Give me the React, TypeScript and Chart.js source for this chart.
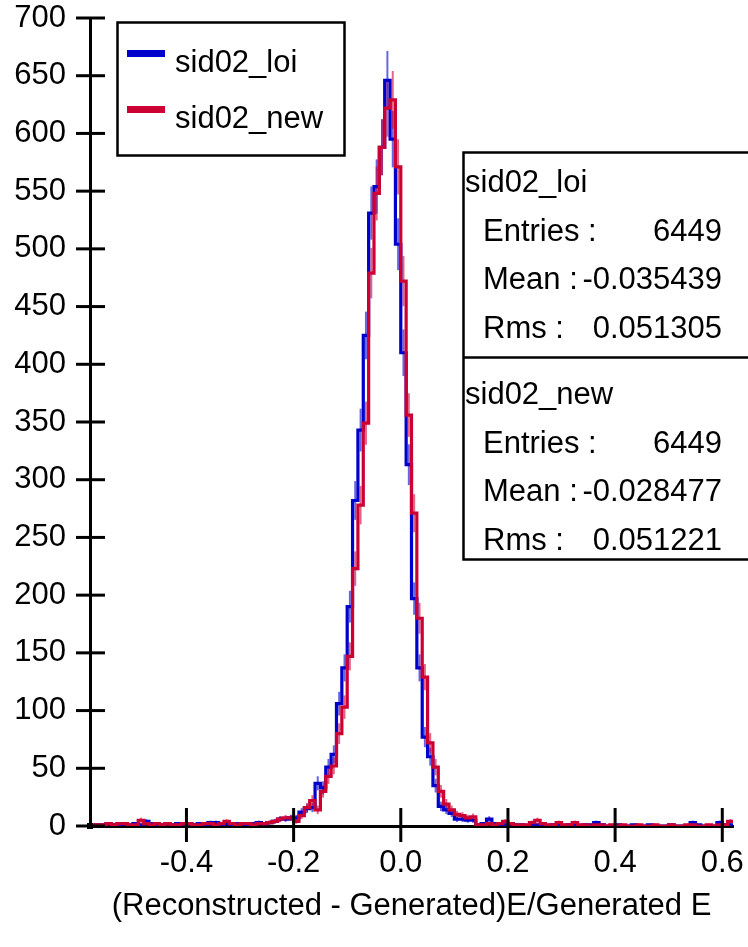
import React, { useEffect, useRef } from 'react';
import { Chart, registerables } from 'chart.js';

Chart.register(...registerables);

// ---- data ----
const BIN_START = -0.58;
const BIN_WIDTH = 0.01;

// counts per 0.01 bin, left edges -0.58 ... 0.61
const blueCounts = [
  // -0.58 .. -0.26
  0, 1, 1, 2, 1, 1, 2, 1, 2, 1, 4, 2, 1, 1, 2, 1, 2, 1, 2, 1, 2, 1, 3, 3, 1, 2, 1, 2, 2, 1, 2, 3, 2,
  // -0.25 .. 0.14
  3, 4, 6, 6, 7, 7, 12, 15, 16, 37, 33, 51, 62, 106, 137, 190, 282, 343, 425, 531,
  554, 588, 646, 595, 504, 410, 313, 197, 137, 77, 60, 35, 17, 14, 11, 6, 6, 5, 5, 1,
  // 0.15 .. 0.61
  2, 6, 2, 1, 1, 2, 1, 1, 0, 1, 1, 1, 0, 1, 1, 0, 1, 1, 0, 1, 1, 3, 1, 0, 0, 1, 0, 0, 1, 0, 0, 1,
  0, 0, 0, 1, 0, 0, 0, 3, 1, 0, 0, 0, 3, 1, 1,
];

const redCounts = [
  // -0.58 .. -0.26
  1, 1, 1, 2, 1, 2, 2, 1, 1, 5, 2, 1, 2, 1, 2, 1, 1, 2, 2, 1, 1, 2, 2, 1, 2, 4, 2, 1, 2, 2, 1, 2, 2,
  // -0.25 .. 0.14
  3, 4, 6, 7, 7, 4, 9, 16, 22, 14, 30, 43, 52, 80, 103, 147, 223, 278, 349, 479,
  548, 588, 622, 629, 571, 472, 356, 271, 180, 129, 72, 51, 30, 19, 14, 10, 9, 7, 8, 1,
  // 0.15 .. 0.61
  1, 2, 1, 2, 4, 2, 1, 1, 1, 3, 5, 2, 1, 1, 3, 1, 1, 3, 1, 1, 0, 1, 1, 0, 1, 0, 1, 0, 0, 1, 0, 0,
  1, 0, 0, 1, 0, 0, 1, 1, 0, 0, 1, 0, 1, 1, 4,
];

const seriesNames = ['sid02_loi', 'sid02_new'];
const seriesColors = ['#0000cc', '#cc0033'];
const errorColors = ['rgba(0,0,204,0.6)', 'rgba(204,0,51,0.6)'];
const statEntries = ['6449', '6449'];
const statMeans = ['-0.035439', '-0.028477'];
const statRms = ['0.051305', '0.051221'];

const xTickValues = [-0.4, -0.2, 0.0, 0.2, 0.4, 0.6];
const X_MIN = -0.58;
const X_MAX = 0.62;
const Y_MIN = 0;
const Y_MAX = 700;
const Y_STEP = 50;
const xTitle = '(Reconstructed - Generated)E/Generated E';

const FONT = "'Liberation Sans', Arial, Helvetica, sans-serif";
const FONT_SIZE = 31;

function toSteps(counts: number[]) {
  const pts = counts.map((c, i) => ({ x: +(BIN_START + i * BIN_WIDTH).toFixed(4), y: c }));
  pts.push({ x: +(BIN_START + counts.length * BIN_WIDTH).toFixed(4), y: counts[counts.length - 1] });
  return pts;
}

const allCounts = [blueCounts, redCounts];

const errorBarsPlugin = {
  id: 'errorBars',
  beforeDatasetsDraw(chart: any) {
    const { ctx, chartArea } = chart;
    const xs = chart.scales.x;
    const ys = chart.scales.y;
    ctx.save();
    ctx.beginPath();
    ctx.rect(chartArea.left, chartArea.top - 40, chartArea.right - chartArea.left, chartArea.bottom - chartArea.top + 40);
    ctx.clip();
    allCounts.forEach((counts, si) => {
      ctx.strokeStyle = errorColors[si];
      ctx.lineWidth = 2;
      counts.forEach((c, i) => {
        if (c <= 0) return;
        const e = Math.sqrt(c);
        const cx = xs.getPixelForValue(BIN_START + (i + 0.5) * BIN_WIDTH);
        ctx.beginPath();
        ctx.moveTo(cx, ys.getPixelForValue(Math.max(0, c - e)));
        ctx.lineTo(cx, ys.getPixelForValue(c + e));
        ctx.stroke();
      });
    });
    ctx.restore();
  },
};

const framePlugin = {
  id: 'frame',
  afterDraw(chart: any) {
    const { ctx, chartArea } = chart;
    const xs = chart.scales.x;
    const ys = chart.scales.y;
    ctx.save();
    ctx.strokeStyle = '#000';
    ctx.fillStyle = '#000';
    ctx.lineWidth = 3;
    // y ticks crossing the axis
    ys.ticks.forEach((t: any) => {
      const y = ys.getPixelForValue(t.value);
      ctx.beginPath();
      ctx.moveTo(chartArea.left - 14, y);
      ctx.lineTo(chartArea.left + 15, y);
      ctx.stroke();
    });
    // x ticks crossing the axis
    xs.ticks.forEach((t: any) => {
      const x = xs.getPixelForValue(t.value);
      ctx.beginPath();
      ctx.moveTo(x, chartArea.bottom - 18);
      ctx.lineTo(x, chartArea.bottom + 16);
      ctx.stroke();
    });
    // origin marker
    ctx.fillRect(chartArea.left - 3, chartArea.bottom - 3, 6, 6);

    // legend box
    ctx.lineWidth = 2.5;
    ctx.strokeRect(117.5, 22.5, 227, 133);
    ctx.font = `${FONT_SIZE}px ${FONT}`;
    ctx.textBaseline = 'alphabetic';
    ctx.textAlign = 'left';
    const legendRows = [72, 128];
    seriesNames.forEach((name, i) => {
      ctx.fillStyle = seriesColors[i];
      ctx.fillRect(127, legendRows[i] - 22, 38, 7);
      ctx.fillStyle = '#000';
      ctx.fillText(name, 175, legendRows[i]);
    });

    // stats boxes
    ctx.lineWidth = 2.5;
    ctx.strokeRect(463.5, 152.5, 300, 407);
    ctx.beginPath();
    ctx.moveTo(463.5, 357.5);
    ctx.lineTo(760, 357.5);
    ctx.stroke();
    const boxTops = [192, 404];
    const rowGap = 48.5;
    seriesNames.forEach((name, i) => {
      const b = boxTops[i];
      ctx.textAlign = 'left';
      ctx.fillText(name, 465, b);
      ctx.fillText('Entries :', 483, b + rowGap);
      ctx.fillText('Mean :', 483, b + rowGap * 2);
      ctx.fillText('Rms :', 483, b + rowGap * 3);
      ctx.textAlign = 'right';
      ctx.fillText(statEntries[i], 722, b + rowGap);
      ctx.fillText(statMeans[i], 722, b + rowGap * 2);
      ctx.fillText(statRms[i], 722, b + rowGap * 3);
    });
    ctx.restore();
  },
};

export default function App() {
  const canvasRef = useRef<HTMLCanvasElement | null>(null);

  useEffect(() => {
    if (!canvasRef.current) return;
    const chart = new Chart(canvasRef.current, {
      type: 'line',
      data: {
        datasets: [
          {
            label: seriesNames[0],
            data: toSteps(blueCounts),
            borderColor: seriesColors[0],
            borderWidth: 3.2,
            pointRadius: 0,
            stepped: 'before',
            fill: false,
            order: 1,
          },
          {
            label: seriesNames[1],
            data: toSteps(redCounts),
            borderColor: seriesColors[1],
            borderWidth: 3.2,
            pointRadius: 0,
            stepped: 'before',
            fill: false,
            order: 0,
          },
        ],
      },
      options: {
        animation: false,
        responsive: false,
        maintainAspectRatio: false,
        devicePixelRatio: 1,
        layout: { padding: { left: 0, right: 15, top: 18, bottom: 0 } },
        plugins: {
          legend: { display: false },
          tooltip: { enabled: false },
          title: { display: false },
        },
        scales: {
          x: {
            type: 'linear',
            min: X_MIN,
            max: X_MAX,
            grid: { display: false, drawTicks: false },
            border: { display: true, color: '#000', width: 3 },
            afterBuildTicks: (scale: any) => {
              scale.ticks = xTickValues.map((v) => ({ value: v }));
            },
            afterFit: (scale: any) => {
              scale.height = 121;
              scale.paddingLeft = 0;
              scale.paddingRight = 0;
            },
            ticks: {
              padding: 19,
              color: '#000',
              font: { family: FONT, size: FONT_SIZE },
              maxRotation: 0,
              autoSkip: false,
              callback: (v: any) => Number(v).toFixed(1),
            },
            title: {
              display: true,
              text: xTitle,
              color: '#000',
              font: { family: FONT, size: FONT_SIZE },
              padding: { top: 0, bottom: 22 },
            },
          },
          y: {
            type: 'linear',
            min: Y_MIN,
            max: Y_MAX,
            grid: { display: false, drawTicks: false },
            border: { display: true, color: '#000', width: 3 },
            afterFit: (scale: any) => {
              scale.width = 90;
              scale.paddingTop = 0;
              scale.paddingBottom = 0;
            },
            ticks: {
              stepSize: Y_STEP,
              padding: 24,
              color: '#000',
              font: { family: FONT, size: FONT_SIZE },
              autoSkip: false,
            },
          },
        },
      },
      plugins: [errorBarsPlugin, framePlugin],
    } as any);
    return () => chart.destroy();
  }, []);

  return (
    <div style={{ position: 'fixed', left: 0, top: 0, width: 748, height: 947, background: '#fff' }}>
      <canvas ref={canvasRef} width={748} height={947} style={{ display: 'block', width: 748, height: 947 }} />
    </div>
  );
}
